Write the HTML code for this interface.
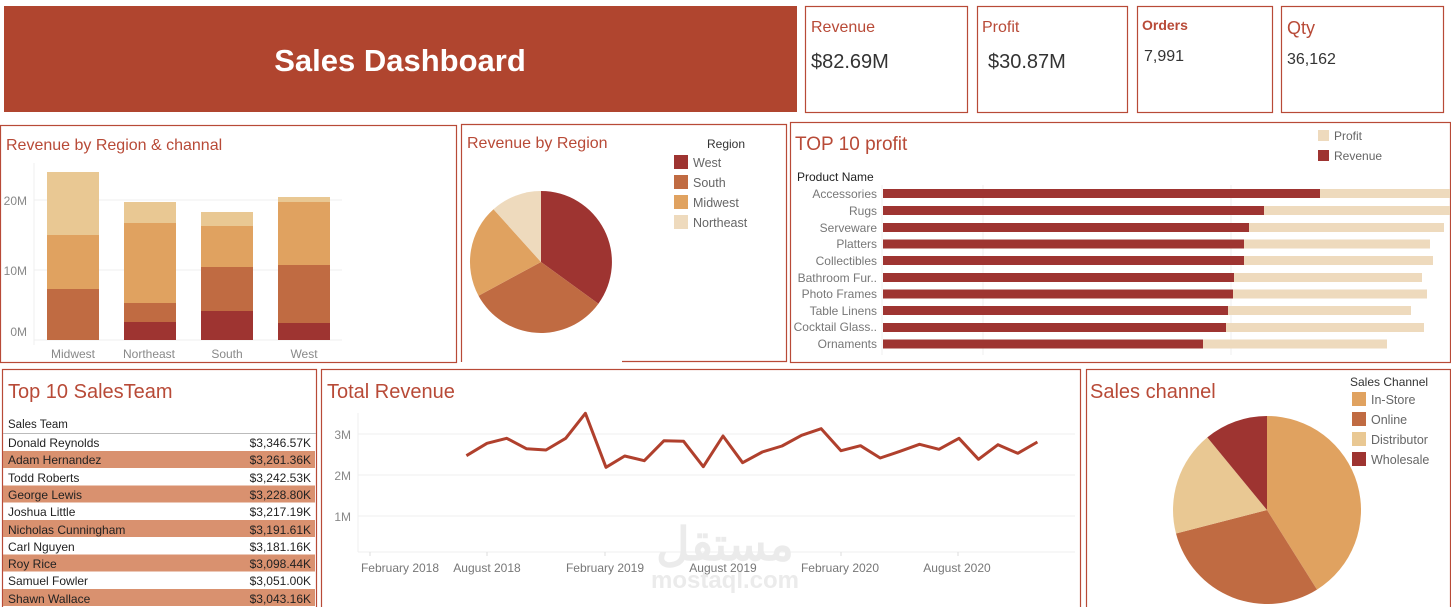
<!DOCTYPE html>
<html><head><meta charset="utf-8"><style>
html,body{margin:0;padding:0;background:#fff;}
svg{display:block;font-family:"Liberation Sans","Noto Sans CJK SC",sans-serif;}
</style></head><body>
<svg width="1451" height="607" viewBox="0 0 1451 607" xmlns="http://www.w3.org/2000/svg">
<rect width="1451" height="607" fill="#fff"/>
<rect x="4" y="6" width="793" height="106" fill="#b0452f"/>
<text x="400" y="71" text-anchor="middle" fill="#fff" font-size="31" font-weight="bold">Sales Dashboard</text>
<g fill="none" stroke="#b84a37" stroke-width="1.2">
<rect x="805.5" y="6.5" width="162" height="106"/>
<rect x="977.5" y="6.5" width="150" height="106"/>
<rect x="1137.5" y="6.5" width="135" height="106"/>
<rect x="1281.5" y="6.5" width="162" height="106"/>
</g>
<g fill="#b84a37">
<text x="811" y="32" font-size="16">Revenue</text>
<text x="982" y="32" font-size="16">Profit</text>
<text x="1142" y="30" font-size="14" font-weight="bold">Orders</text>
<text x="1287" y="34" font-size="18">Qty</text>
</g>
<g fill="#333">
<text x="811" y="68" font-size="20">$82.69M</text>
<text x="988" y="68" font-size="20">$30.87M</text>
<text x="1144" y="61" font-size="16">7,991</text>
<text x="1287" y="64" font-size="16">36,162</text>
</g>
<g fill="none" stroke="#b84a37" stroke-width="1.2">
<rect x="0.5" y="125.5" width="456" height="237"/>
<path d="M622 361.5 H786.5 V124.5 H461.5 V362"/>
<rect x="790.5" y="122.5" width="660" height="240"/>
<rect x="2.5" y="369.5" width="314" height="240"/>
<rect x="321.5" y="369.5" width="759" height="240"/>
<rect x="1086.5" y="369.5" width="364" height="240"/>
</g>
<text x="6" y="150" font-size="16" fill="#b84a37">Revenue by Region &amp; channal</text>
<g stroke="#efefef" stroke-width="1"><line x1="34" y1="200" x2="342" y2="200"/><line x1="34" y1="270" x2="342" y2="270"/><line x1="34" y1="340" x2="342" y2="340"/><line x1="34" y1="163" x2="34" y2="345"/></g>
<g font-size="12" fill="#888" text-anchor="end"><text x="27" y="205">20M</text><text x="27" y="275">10M</text><text x="27" y="336">0M</text></g>
<rect x="47" y="172" width="52" height="63" fill="#e9c893"/><rect x="47" y="235" width="52" height="54" fill="#e0a260"/><rect x="47" y="289" width="52" height="51" fill="#c06b42"/>
<rect x="124" y="202" width="52" height="21" fill="#e9c893"/><rect x="124" y="223" width="52" height="80" fill="#e0a260"/><rect x="124" y="303" width="52" height="19" fill="#c06b42"/><rect x="124" y="322" width="52" height="18" fill="#9e3431"/>
<rect x="201" y="212" width="52" height="14" fill="#e9c893"/><rect x="201" y="226" width="52" height="41" fill="#e0a260"/><rect x="201" y="267" width="52" height="44" fill="#c06b42"/><rect x="201" y="311" width="52" height="29" fill="#9e3431"/>
<rect x="278" y="197" width="52" height="5" fill="#e9c893"/><rect x="278" y="202" width="52" height="63" fill="#e0a260"/><rect x="278" y="265" width="52" height="58" fill="#c06b42"/><rect x="278" y="323" width="52" height="17" fill="#9e3431"/>
<g font-size="12" fill="#888" text-anchor="middle"><text x="73" y="358">Midwest</text><text x="149" y="358">Northeast</text><text x="227" y="358">South</text><text x="304" y="358">West</text></g>
<text x="467" y="148" font-size="16" fill="#b84a37">Revenue by Region</text>
<g transform="translate(541,262)">
<path d="M0 0 L0 -71 A71 71 0 0 1 57.4 41.7 Z" fill="#9e3431"/>
<path d="M0 0 L57.4 41.7 A71 71 0 0 1 -62.5 33.7 Z" fill="#c06b42"/>
<path d="M0 0 L-62.5 33.7 A71 71 0 0 1 -47.5 -52.8 Z" fill="#e0a260"/>
<path d="M0 0 L-47.5 -52.8 A71 71 0 0 1 0 -71 Z" fill="#eedabd"/>
</g>
<text x="707" y="148" font-size="12" fill="#333">Region</text>
<rect x="674" y="155" width="14" height="14" fill="#9e3431"/><rect x="674" y="175" width="14" height="14" fill="#c06b42"/><rect x="674" y="195" width="14" height="14" fill="#e0a260"/><rect x="674" y="215" width="14" height="14" fill="#eedabd"/>
<g font-size="12.5" fill="#666"><text x="693" y="167">West</text><text x="693" y="187">South</text><text x="693" y="207">Midwest</text><text x="693" y="227">Northeast</text></g>
<text x="795" y="150" font-size="19" fill="#b84a37">TOP 10 profit</text>
<rect x="1318" y="130" width="11" height="11" fill="#eedabd"/><rect x="1318" y="150" width="11" height="11" fill="#9e3431"/>
<g font-size="12" fill="#666"><text x="1334" y="140">Profit</text><text x="1334" y="160">Revenue</text></g>
<text x="797" y="181" font-size="12" fill="#222">Product Name</text>
<g stroke="#efefef"><line x1="983" y1="185" x2="983" y2="355"/><line x1="1231" y1="185" x2="1231" y2="355"/><line x1="882" y1="185" x2="882" y2="355"/></g>
<g>
<rect x="883" y="189" width="567" height="9" fill="#eedabd"/><rect x="883" y="189" width="437" height="9" fill="#9e3431"/>
<rect x="883" y="206" width="567" height="9" fill="#eedabd"/><rect x="883" y="206" width="381" height="9" fill="#9e3431"/>
<rect x="883" y="223" width="561" height="9" fill="#eedabd"/><rect x="883" y="223" width="366" height="9" fill="#9e3431"/>
<rect x="883" y="239.5" width="547" height="9" fill="#eedabd"/><rect x="883" y="239.5" width="361" height="9" fill="#9e3431"/>
<rect x="883" y="256" width="550" height="9" fill="#eedabd"/><rect x="883" y="256" width="361" height="9" fill="#9e3431"/>
<rect x="883" y="273" width="539" height="9" fill="#eedabd"/><rect x="883" y="273" width="351" height="9" fill="#9e3431"/>
<rect x="883" y="289.5" width="544" height="9" fill="#eedabd"/><rect x="883" y="289.5" width="350" height="9" fill="#9e3431"/>
<rect x="883" y="306" width="528" height="9" fill="#eedabd"/><rect x="883" y="306" width="345" height="9" fill="#9e3431"/>
<rect x="883" y="323" width="541" height="9" fill="#eedabd"/><rect x="883" y="323" width="343" height="9" fill="#9e3431"/>
<rect x="883" y="339.5" width="504" height="9" fill="#eedabd"/><rect x="883" y="339.5" width="320" height="9" fill="#9e3431"/>
</g>
<g font-size="12" fill="#777" text-anchor="end">
<text x="877" y="198">Accessories</text><text x="877" y="215">Rugs</text><text x="877" y="232">Serveware</text><text x="877" y="248">Platters</text><text x="877" y="265">Collectibles</text><text x="877" y="282">Bathroom Fur..</text><text x="877" y="298">Photo Frames</text><text x="877" y="315">Table Linens</text><text x="877" y="331">Cocktail Glass..</text><text x="877" y="348">Ornaments</text>
</g>
<text x="8" y="398" font-size="20" fill="#b84a37">Top 10 SalesTeam</text>
<text x="8" y="428" font-size="11.5" fill="#222">Sales Team</text>
<line x1="3" y1="433.5" x2="316" y2="433.5" stroke="#bbb"/>
<g fill="#d9916f">
<rect x="3" y="451" width="312" height="17"/><rect x="3" y="485.5" width="312" height="17"/><rect x="3" y="520" width="312" height="17"/><rect x="3" y="554.5" width="312" height="17"/><rect x="3" y="589" width="312" height="17"/>
</g>
<g font-size="12" fill="#222">
<text x="8" y="447">Donald Reynolds</text><text x="8" y="464">Adam Hernandez</text><text x="8" y="482">Todd Roberts</text><text x="8" y="499">George Lewis</text><text x="8" y="516">Joshua Little</text><text x="8" y="534">Nicholas Cunningham</text><text x="8" y="551">Carl Nguyen</text><text x="8" y="568">Roy Rice</text><text x="8" y="585">Samuel Fowler</text><text x="8" y="603">Shawn Wallace</text>
</g>
<g font-size="12" fill="#222" text-anchor="end">
<text x="311" y="447">$3,346.57K</text><text x="311" y="464">$3,261.36K</text><text x="311" y="482">$3,242.53K</text><text x="311" y="499">$3,228.80K</text><text x="311" y="516">$3,217.19K</text><text x="311" y="534">$3,191.61K</text><text x="311" y="551">$3,181.16K</text><text x="311" y="568">$3,098.44K</text><text x="311" y="585">$3,051.00K</text><text x="311" y="603">$3,043.16K</text>
</g>
<text x="327" y="398" font-size="20" fill="#b84a37">Total Revenue</text>
<g stroke="#efefef"><line x1="358" y1="434" x2="1075" y2="434"/><line x1="358" y1="475" x2="1075" y2="475"/><line x1="358" y1="516" x2="1075" y2="516"/><line x1="358" y1="552" x2="1075" y2="552"/><line x1="358" y1="413" x2="358" y2="552"/></g>
<g stroke="#ddd"><line x1="370" y1="552" x2="370" y2="556"/><line x1="487" y1="552" x2="487" y2="556"/><line x1="605" y1="552" x2="605" y2="556"/><line x1="723" y1="552" x2="723" y2="556"/><line x1="841" y1="552" x2="841" y2="556"/><line x1="958" y1="552" x2="958" y2="556"/></g>
<g font-size="12" fill="#888" text-anchor="end"><text x="351" y="439">3M</text><text x="351" y="480">2M</text><text x="351" y="521">1M</text></g>
<g fill="#ebebeb" text-anchor="middle" font-weight="bold"><text x="725" y="560" font-size="46" font-family="'Noto Sans CJK SC',sans-serif">مستقل</text><text x="725" y="588" font-size="24">mostaql.com</text></g>
<g font-size="12" fill="#777" text-anchor="middle"><text x="400" y="572">February 2018</text><text x="487" y="572">August 2018</text><text x="605" y="572">February 2019</text><text x="723" y="572">August 2019</text><text x="840" y="572">February 2020</text><text x="957" y="572">August 2020</text></g>
<polyline fill="none" stroke="#b0402d" stroke-width="3" stroke-linejoin="round" points="466.4,455.7 487,443.3 506.7,438.3 526.4,448.7 546,450 565.7,438.3 585.4,413.3 606,467.3 624.7,456 644.3,460.7 664,440.7 683.6,441.3 703.3,466.7 723,436 742.6,462.7 762.3,452 782,446 801.6,435.3 821.2,428.7 841,450.7 860.5,445.7 880.2,458 900,451.3 919.5,444.3 939,449.3 959,438.3 978.5,459.3 998,444.7 1017.8,453.3 1037.4,442"/>
<text x="1090" y="398" font-size="20" fill="#b84a37">Sales channel</text>
<g transform="translate(1267,510)">
<path d="M0 0 L0 -94 A94 94 0 0 1 50 79.6 Z" fill="#e0a260"/>
<path d="M0 0 L50 79.6 A94 94 0 0 1 -91 23.5 Z" fill="#c06b42"/>
<path d="M0 0 L-91 23.5 A94 94 0 0 1 -59.7 -72.6 Z" fill="#e9c893"/>
<path d="M0 0 L-59.7 -72.6 A94 94 0 0 1 0 -94 Z" fill="#9e3431"/>
</g>
<text x="1350" y="386" font-size="12" fill="#333">Sales Channel</text>
<rect x="1352" y="392" width="14" height="14" fill="#e0a260"/><rect x="1352" y="412" width="14" height="14" fill="#c06b42"/><rect x="1352" y="432" width="14" height="14" fill="#e9c893"/><rect x="1352" y="452" width="14" height="14" fill="#9e3431"/>
<g font-size="12.5" fill="#666"><text x="1371" y="404">In-Store</text><text x="1371" y="424">Online</text><text x="1371" y="444">Distributor</text><text x="1371" y="464">Wholesale</text></g>
</svg>
</body></html>
